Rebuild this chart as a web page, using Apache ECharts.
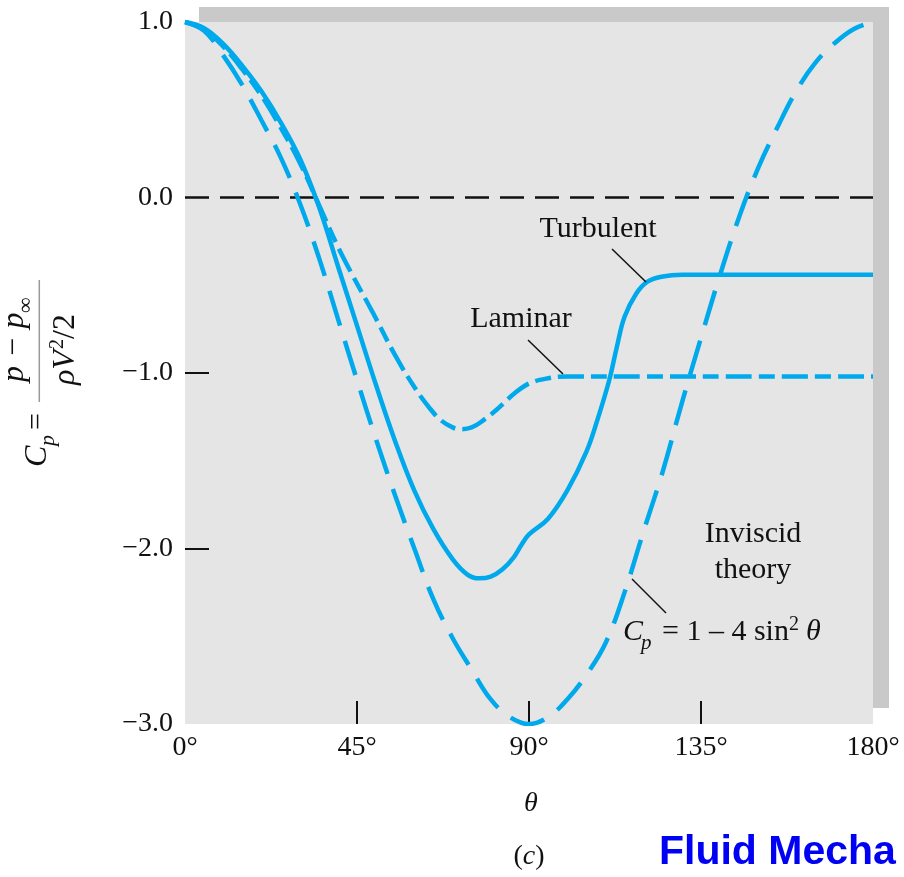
<!DOCTYPE html>
<html>
<head>
<meta charset="utf-8">
<script src="https://cdn.jsdelivr.net/npm/echarts@6/dist/echarts.min.js"></script>
<style>
html,body{margin:0;padding:0;background:#fff;}
#chart{width:904px;height:877px;}
</style>
</head>
<body>
<div id="chart"></div>
<script>
// ---- data (theta in degrees, Cp) ----
var xTickLabels = ['0°', '45°', '90°', '135°', '180°'];
var yTickLabels = ['−3.0', '−2.0', '−1.0', '0.0', '1.0'];

var invTheta = [0, 5, 10, 15, 20, 25, 30, 35, 40, 45, 50, 55, 60, 65, 70, 75, 80, 85, 90,
                95, 100, 105, 110, 115, 120, 125, 130, 135, 140, 145, 150, 155, 160, 165, 170, 175, 180];
var invCp = [1.00, 0.95, 0.81, 0.64, 0.44, 0.23, -0.03, -0.34, -0.69, -1.04, -1.38, -1.70, -2.00, -2.29, -2.51, -2.69, -2.86, -2.96, -3.00,
             -2.96, -2.86, -2.72, -2.54, -2.25, -1.90, -1.56, -1.17, -0.80, -0.44, -0.11, 0.17, 0.40, 0.61, 0.77, 0.88, 0.96, 1.00];

var lamTheta = [0, 5, 10, 15, 20, 25, 30, 35, 40, 44, 49, 55, 60, 64, 67, 70, 72, 75, 78, 82, 86, 90, 95, 100, 120, 150, 180];
var lamCp = [1.00, 0.955, 0.86, 0.73, 0.58, 0.40, 0.20, -0.04, -0.28, -0.45, -0.65, -0.90, -1.08, -1.20, -1.27, -1.31, -1.32, -1.31, -1.27, -1.20, -1.12, -1.06, -1.03, -1.02, -1.02, -1.02, -1.02];

var turbTheta = [0, 5, 10, 15, 20, 25, 30, 35, 40, 45, 50, 55, 60, 65, 70, 74, 77, 80, 83, 86, 88, 90, 95, 100, 105, 108, 111, 113, 115, 118, 121, 125, 130, 150, 180];
var turbCp = [1.00, 0.965, 0.875, 0.75, 0.605, 0.43, 0.225, -0.05, -0.39, -0.73, -1.07, -1.39, -1.67, -1.89, -2.06, -2.15, -2.17, -2.16, -2.12, -2.05, -1.98, -1.92, -1.83, -1.67, -1.45, -1.26, -1.04, -0.85, -0.68, -0.55, -0.48, -0.45, -0.44, -0.44, -0.44];

var zeroTheta = [0, 180];
var zeroCp = [0, 0];

function pairs(xs, ys) { return xs.map(function (x, i) { return [x, ys[i]]; }); }

var BLUE = '#00a9ec';
var SERIF = '"Liberation Serif", "Times New Roman", serif';

function txt(x, y, text, font, align, extra) {
  var o = {
    type: 'text', x: x, y: y, z: 100,
    style: {
      text: text, font: font, fill: '#111111',
      align: align || 'left', textAlign: align || 'left',
      verticalAlign: 'middle', textVerticalAlign: 'middle'
    }
  };
  if (extra) { for (var k in extra) o.style[k] = extra[k]; }
  return o;
}
function leader(x1, y1, x2, y2) {
  return { type: 'line', z: 100, shape: { x1: x1, y1: y1, x2: x2, y2: y2 }, style: { stroke: '#111111', lineWidth: 1.5 } };
}

var chart = echarts.init(document.getElementById('chart'), null, { renderer: 'canvas' });

var option = {
  animation: false,
  backgroundColor: '#ffffff',
  grid: {
    left: 185, right: 31, top: 22, bottom: 153,
    show: true, backgroundColor: '#e5e5e5', borderWidth: 0,
    containLabel: false, outerBoundsMode: 'none'
  },
  xAxis: {
    type: 'value', min: 0, max: 180, interval: 45,
    axisLine: { show: false, onZero: false },
    splitLine: { show: false },
    axisTick: { show: true, inside: true, length: 23, customValues: [45, 90, 135], lineStyle: { color: '#111111', width: 2 } },
    axisLabel: {
      margin: 10, color: '#111111', fontFamily: SERIF, fontSize: 28,
      formatter: function (v) { return xTickLabels[Math.round(v / 45)]; }
    }
  },
  yAxis: {
    type: 'value', min: -3, max: 1, interval: 1,
    axisLine: { show: false, onZero: false },
    splitLine: { show: false },
    axisTick: { show: true, inside: true, length: 24, customValues: [-2, -1], lineStyle: { color: '#111111', width: 2 } },
    axisLabel: {
      margin: 12, color: '#111111', fontFamily: SERIF, fontSize: 28,
      formatter: function (v) { return yTickLabels[Math.round(v + 3)]; }
    }
  },
  series: [
    {
      type: 'line', data: pairs(zeroTheta, zeroCp), showSymbol: false, symbol: 'none', silent: true,
      lineStyle: { color: '#111111', width: 2.5, type: [24, 11] }, z: 1
    },
    {
      type: 'line', data: pairs(invTheta, invCp), showSymbol: false, symbol: 'none', smooth: 0.4, silent: true,
      lineStyle: { color: BLUE, width: 4.5, type: [36, 16] }, z: 2
    },
    {
      type: 'line', data: pairs(lamTheta, lamCp), showSymbol: false, symbol: 'none', smooth: 0.4, silent: true,
      lineStyle: { color: BLUE, width: 4.5, type: [26, 7, 16, 7] }, z: 3
    },
    {
      type: 'line', data: pairs(turbTheta, turbCp), showSymbol: false, symbol: 'none', smooth: 0.4, silent: true,
      lineStyle: { color: BLUE, width: 4.5, type: 'solid' }, z: 4
    }
  ],
  graphic: {
    elements: [
      { type: 'rect', z: -10, shape: { x: 199, y: 7, width: 690, height: 701 }, style: { fill: '#c9c9c9' } },
      // annotations
      txt(598, 229, 'Turbulent', '30px ' + SERIF, 'center'),
      leader(612, 249, 646, 282),
      txt(521, 319, 'Laminar', '30px ' + SERIF, 'center'),
      leader(528, 340, 563, 374),
      txt(753, 534, 'Inviscid', '30px ' + SERIF, 'center'),
      txt(753, 570, 'theory', '30px ' + SERIF, 'center'),
      leader(632, 579, 666, 613),
      txt(623, 632, 'C', 'italic 30px ' + SERIF, 'left'),
      txt(641, 643, 'p', 'italic 21px ' + SERIF, 'left'),
      txt(662, 632, '= 1 – 4 sin', '30px ' + SERIF, 'left'),
      txt(789, 625, '2', '20px ' + SERIF, 'left'),
      txt(806, 632, 'θ', 'italic 30px ' + SERIF, 'left'),
      // x axis title and caption
      txt(531, 804, 'θ', 'italic 28px ' + SERIF, 'center'),
      {
        type: 'text', x: 529, y: 857, z: 100,
        style: {
          text: '{a|(}{b|c}{a|)}', fill: '#111111',
          align: 'center', textAlign: 'center', verticalAlign: 'middle', textVerticalAlign: 'middle',
          rich: {
            a: { fontFamily: SERIF, fontSize: 28, fill: '#111111', color: '#111111' },
            b: { fontFamily: SERIF, fontSize: 28, fontStyle: 'italic', fill: '#111111', color: '#111111' }
          }
        }
      },
      txt(659, 853, 'Fluid Mecha', 'bold 41px "Liberation Sans", Arial, sans-serif', 'left', { fill: '#0000f5' }),
      // rotated y axis title
      {
        type: 'group', x: 39.3, y: 470, rotation: Math.PI / 2,
        children: [
          txt(3, -2, 'C', 'italic 32px ' + SERIF, 'left'),
          txt(24, 9, 'p', 'italic 22px ' + SERIF, 'left'),
          txt(40, -2, '=', '30px ' + SERIF, 'left'),
          { type: 'line', shape: { x1: 68, y1: 0, x2: 190, y2: 0 }, style: { stroke: '#999', lineWidth: 1.5 }, z: 100 },
          txt(88, -25, 'p − p', 'italic 32px ' + SERIF, 'left'),
          txt(157, -13, '∞', '22px ' + SERIF, 'left'),
          txt(85, 26, 'ρV', 'italic 32px ' + SERIF, 'left'),
          txt(121, 18, '2', '20px ' + SERIF, 'left'),
          txt(131, 26, '/2', '32px ' + SERIF, 'left')
        ]
      }
    ]
  }
};

chart.setOption(option);
</script>
</body>
</html>
